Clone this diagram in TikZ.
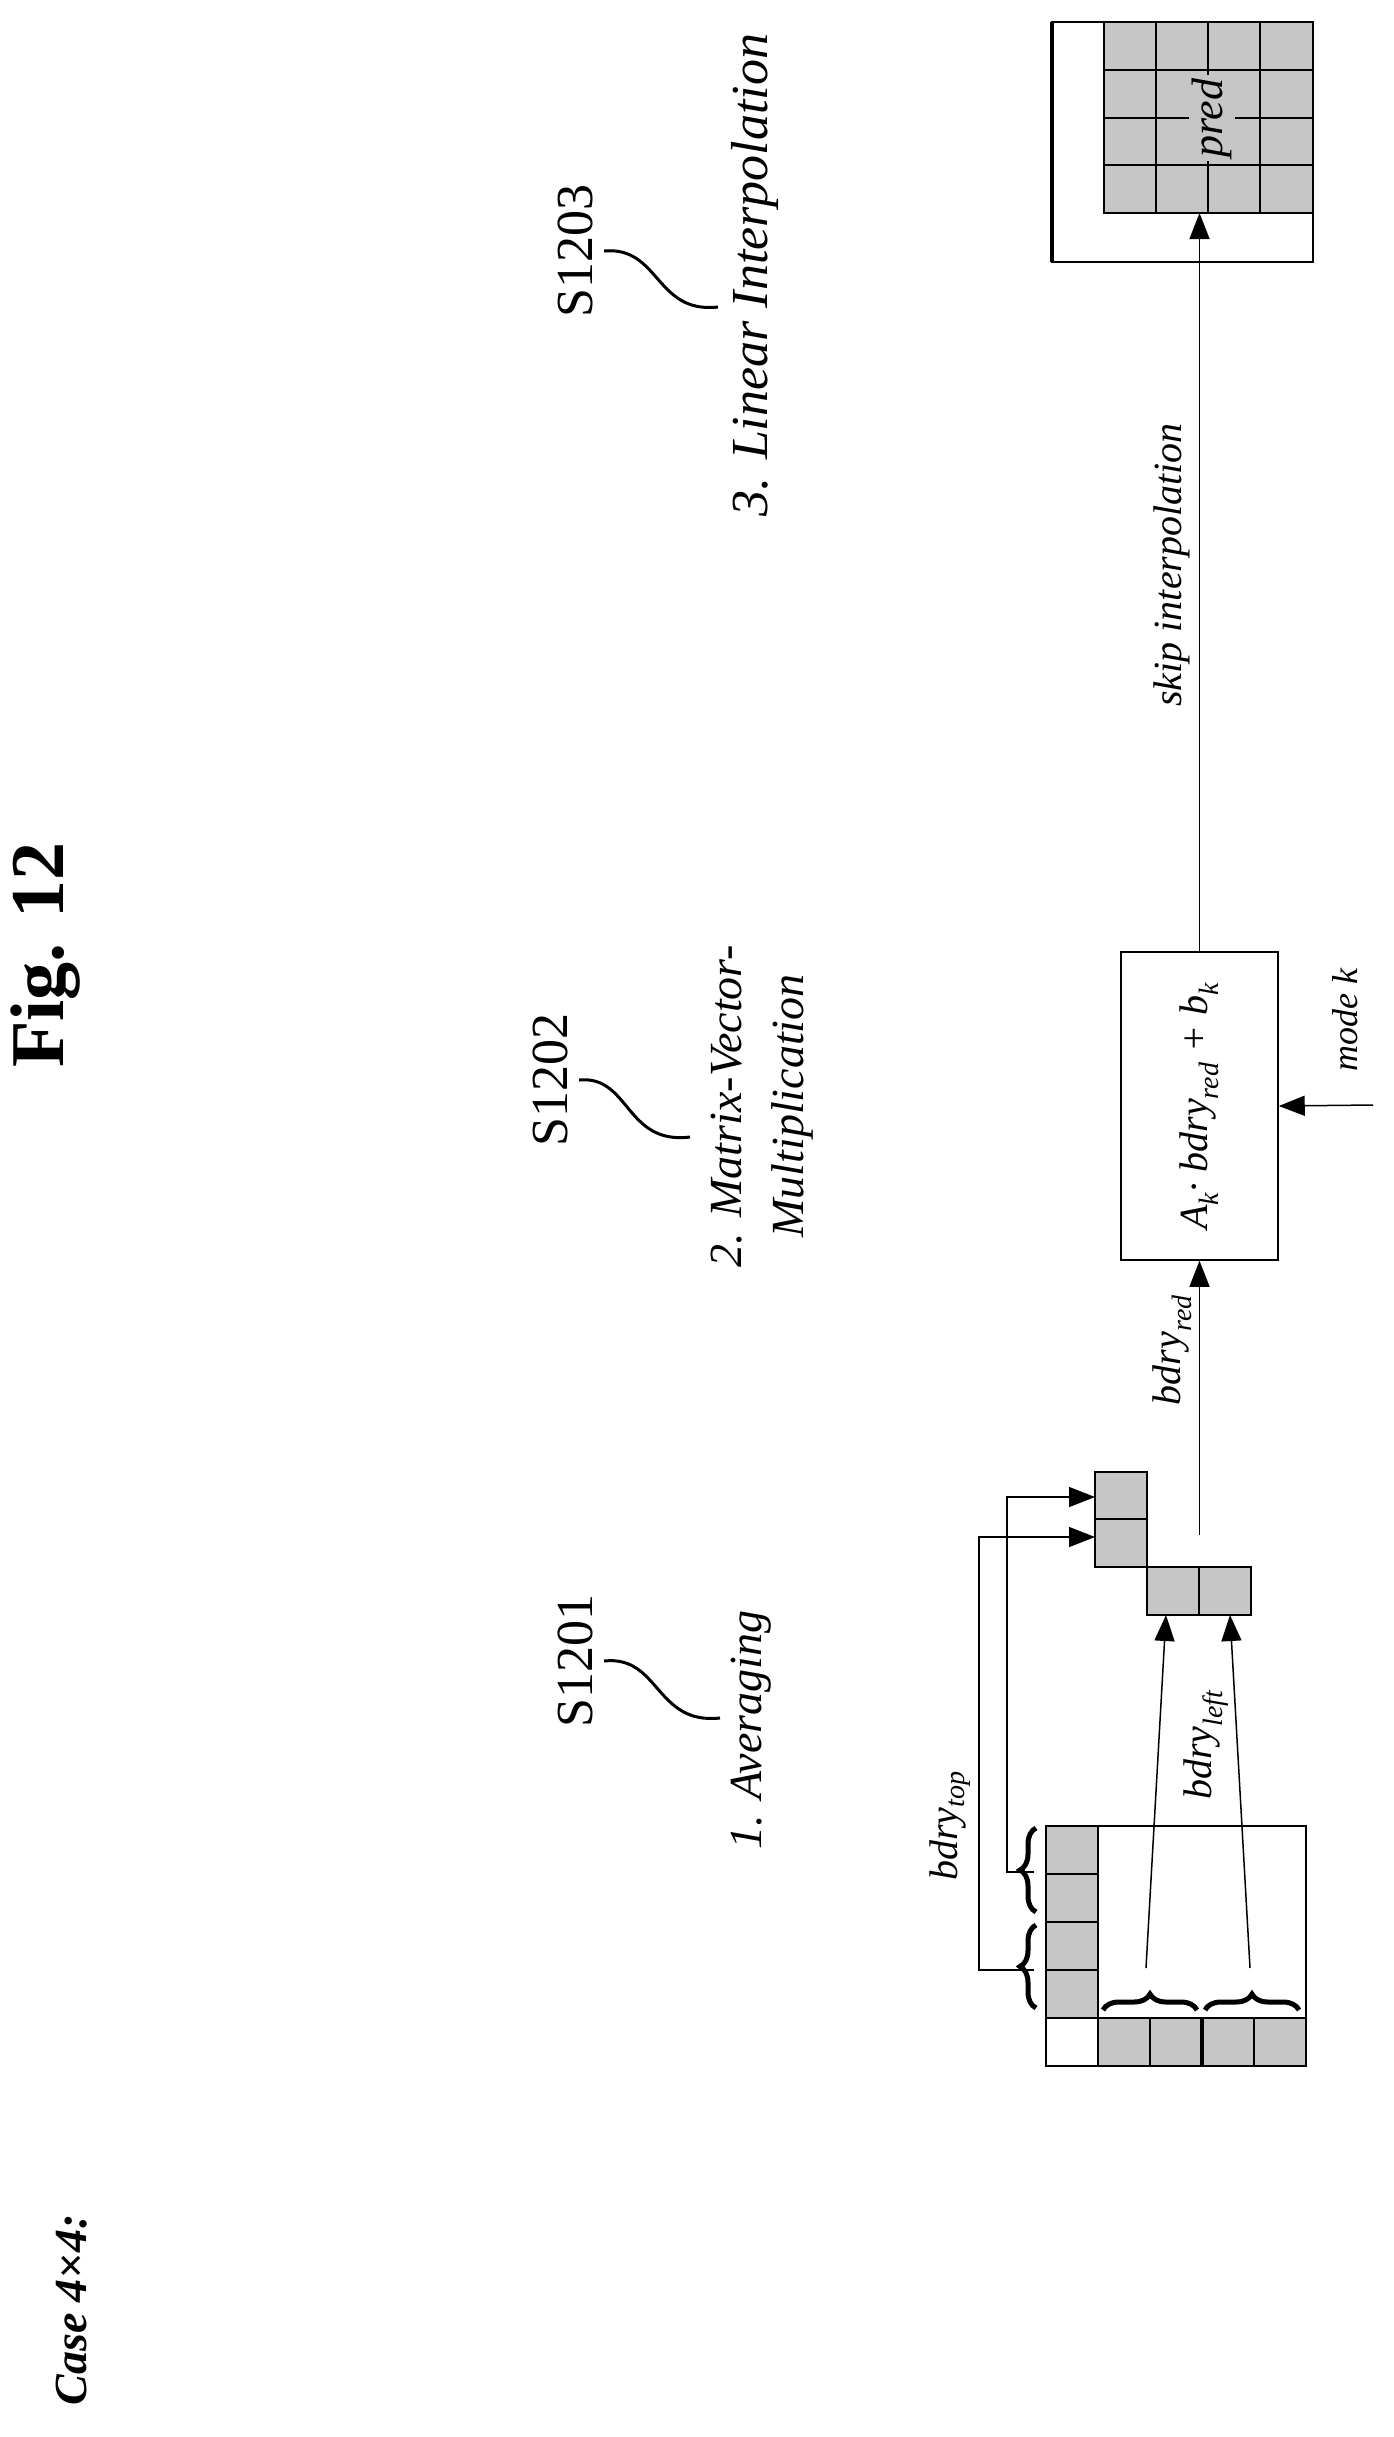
\documentclass[tikz,border=0pt]{standalone}
\usepackage{fontspec}
\setmainfont{Liberation Serif}
\usetikzlibrary{arrows.meta,decorations.pathreplacing}
\begin{document}
\begin{tikzpicture}[x=1pt,y=-1pt,
  ln/.style={line width=1.5pt},
  arr/.style={ln,-{Triangle[length=26pt,width=20pt]}},
  cellg/.style={draw,line width=2pt,fill=gray!45},
  lbl/.style={rotate=90,font=\fontsize{46}{62}\selectfont\itshape,align=center},
  small/.style={rotate=90,font=\fontsize{40}{48}\selectfont\itshape},
  slabel/.style={rotate=90,font=\fontsize{52}{60}\selectfont},
  squig/.style={line width=3pt},
  brc/.style={decorate,decoration={brace,amplitude=16pt},line width=5pt}]
\useasboundingbox (0,0) rectangle (1394,2437);

% titles
\node[rotate=90,font=\fontsize{76}{80}\selectfont\bfseries] (fig) at (46,955) {Fig. 12};
\node[rotate=90,font=\fontsize{46}{50}\selectfont\bfseries\itshape] (case) at (72,2310) {Case 4×4:};

% step labels
\node[slabel] (s1) at (575,1661) {S1201};
\node[slabel] (s2) at (550,1080) {S1202};
\node[slabel] (s3) at (575,251) {S1203};
\node[lbl] (t1) at (751,1730) {1. Averaging};
\node[lbl] (t2) at (762,1106) {2. Matrix-Vector-\\Multiplication};
\node[lbl,font=\fontsize{52}{62}\selectfont\itshape] (t3) at (755,275) {3. Linear Interpolation};
\draw[squig] ([xshift=8pt]s1.south) .. controls (660,1655) and (655,1725) .. (720,1718);
\draw[squig] ([xshift=8pt]s2.south) .. controls (630,1075) and (625,1145) .. (690,1137);
\draw[squig] ([xshift=8pt]s3.south) .. controls (660,246) and (655,314) .. (718,307);

% input block
\draw[ln] (1046,1826) rectangle (1306,2066);
\filldraw[cellg] (1046,1826) rectangle (1098,2018);
\foreach \y in {1874,1922,1970} \draw[line width=2pt] (1046,\y) -- (1098,\y);
\draw[line width=2pt] (1046,2018) rectangle (1098,2066);
\filldraw[cellg] (1098,2018) rectangle (1306,2066);
\foreach \x in {1150,1254} \draw[line width=2pt] (\x,2018) -- (\x,2066);
\draw[line width=4pt] (1202,2018) -- (1202,2066);
\draw[brc] (1036,1912) -- (1036,1828);
\draw[brc] (1036,2008) -- (1036,1925);
\draw[brc] (1103,2010) -- (1197,2010);
\draw[brc] (1205,2010) -- (1299,2010);

% reduced boundary
\filldraw[cellg] (1095,1472) rectangle (1147,1567);
\draw[line width=2pt] (1095,1519) -- (1147,1519);
\filldraw[cellg] (1147,1567) rectangle (1251,1615);
\draw[line width=2pt] (1199,1567) -- (1199,1615);
\coordinate (vin1) at (1095,1497);
\coordinate (vin2) at (1095,1537);
\coordinate (hin1) at (1166,1615);
\coordinate (hin2) at (1230,1615);
\coordinate (bt1) at (1034,1872);
\coordinate (bt2) at (1034,1970);
\coordinate (bl1) at (1146,1968);
\coordinate (bl2) at (1250,1968);
\draw[arr] (bt1) -- (1007,1872) -- (1007,1497) -- (vin1);
\draw[arr] (bt2) -- (979,1970) -- (979,1537) -- (vin2);
\draw[arr] (bl1) -- (hin1);
\draw[arr] (bl2) -- (hin2);
\node[small] (lt) at (950,1826) {bdry\textsubscript{top}};
\node[small] (ll) at (1206,1745) {bdry\textsubscript{left}};

% matrix-vector box
\node[draw,ln,minimum width=157pt,minimum height=308pt,inner sep=0pt] (ak) at (1199.5,1106) {};
\node[small] (akt) at (ak.center) {A\textsubscript{k}· bdry\textsubscript{red} + b\textsubscript{k}};
\coordinate (redout) at (1199.5,1535);
\draw[ln] (redout) -- (1199.5,1440);
\draw[arr] (1199.5,1440) -- (ak.south);
\node[small] (lr) at (1172,1350) {bdry\textsubscript{red}};
\coordinate (modek) at (1373,1105);
\draw[arr] (modek) -- (ak.east);
\node[small,font=\fontsize{36}{40}\selectfont\itshape] (mk) at (1345,1020) {mode k};

% prediction block
\draw[ln] (1052,22) rectangle (1313,262);
\draw[line width=4pt] (1052,22) -- (1052,262);
\filldraw[cellg] (1104,22) rectangle (1313,213);
\foreach \x in {1156,1208,1260} \draw[line width=2pt] (\x,22) -- (\x,213);
\foreach \y in {70,118,165} \draw[line width=2pt] (1104,\y) -- (1313,\y);
\node[rotate=90,fill=gray!45,inner sep=3pt,font=\fontsize{44}{50}\selectfont\itshape] (pred) at (1212,118) {pred};
\coordinate (predin) at (1199.5,213);
\draw[arr] (ak.north) -- (predin);
\node[small] (skip) at (1172,565) {skip interpolation};
\end{tikzpicture}
\end{document}
